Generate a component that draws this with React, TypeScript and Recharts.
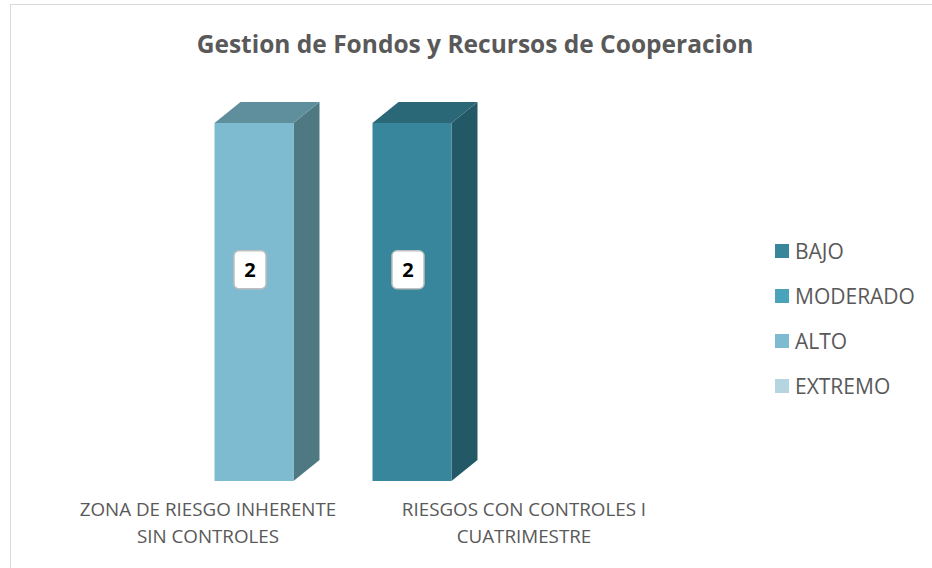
import React from 'react';
import { BarChart, Bar, XAxis, YAxis, Legend, LabelList } from 'recharts';

const categories = ['ZONA DE RIESGO INHERENTE SIN CONTROLES', 'RIESGOS CON CONTROLES I CUATRIMESTRE'];
const categoryLines = [
  ['ZONA DE RIESGO INHERENTE', 'SIN CONTROLES'],
  ['RIESGOS CON CONTROLES I', 'CUATRIMESTRE'],
];
const bajo = [0, 2];
const moderado = [0, 0];
const alto = [2, 0];
const extremo = [0, 0];

const seriesNames = ['BAJO', 'MODERADO', 'ALTO', 'EXTREMO'];
const seriesKeys = ['bajo', 'moderado', 'alto', 'extremo'];
// front / top / side shades for the 3D look
const seriesColors = [
  { front: '#37869B', top: '#2A6878', side: '#235866' },
  { front: '#4AA4B9', top: '#3A8090', side: '#306B78' },
  { front: '#7FBBD0', top: '#5F8E9D', side: '#4F7982' },
  { front: '#B5D6E0', top: '#8AA6AF', side: '#758E96' },
];

const data = categories.map((name, i) => ({
  name,
  bajo: bajo[i],
  moderado: moderado[i],
  alto: alto[i],
  extremo: extremo[i],
}));

const DEPTH_X = 26;
const DEPTH_Y = 21;
const FONT = '"Open Sans", "DejaVu Sans", sans-serif';

const make3DShape = (c: { front: string; top: string; side: string }) => (props: any) => {
  const { x, y, width, height } = props;
  if (!height || height <= 0) return null;
  const top = `${x},${y} ${x + DEPTH_X},${y - DEPTH_Y} ${x + width + DEPTH_X},${y - DEPTH_Y} ${x + width},${y}`;
  const side = `${x + width},${y} ${x + width + DEPTH_X},${y - DEPTH_Y} ${x + width + DEPTH_X},${y + height - DEPTH_Y} ${x + width},${y + height}`;
  return (
    <g>
      <polygon points={side} fill={c.side} />
      <polygon points={top} fill={c.top} />
      <rect x={x} y={y} width={width} height={height} fill={c.front} />
    </g>
  );
};

const ValueBox = (props: any) => {
  const { x, y, width, height, value } = props;
  if (!value) return null;
  const cx = x + width / 2 - 4;
  const cy = y + height * 0.41;
  return (
    <g>
      <rect x={cx - 16} y={cy - 19} width={32} height={38} rx={5} fill="#ffffff" stroke="#bfbfbf" strokeWidth={1.5} />
      <text x={cx} y={cy + 7} textAnchor="middle" fontFamily={FONT} fontWeight={700} fontSize={20} fill="#000000">
        {value}
      </text>
    </g>
  );
};

const CategoryTick = (props: any) => {
  const { x, y, index } = props;
  const lines = categoryLines[index] || [];
  return (
    <text x={x} textAnchor="middle" fontFamily={FONT} fontSize={18.8} fill="#595959">
      {lines.map((l, i) => (
        <tspan key={i} x={x} y={y + 27 + i * 27}>
          {l}
        </tspan>
      ))}
    </text>
  );
};

const LegendList = (props: any) => {
  const payload = props.payload || [];
  const items = seriesNames.map((n) => payload.find((p: any) => p.value === n)).filter(Boolean);
  return (
    <div style={{ fontFamily: FONT, fontSize: 21, color: '#595959' }}>
      {items.map((p: any) => (
        <div key={p.value} style={{ display: 'flex', alignItems: 'center', height: 45 }}>
          <span style={{ width: 14, height: 14, background: p.color, marginRight: 6, display: 'inline-block' }} />
          {p.value}
        </div>
      ))}
    </div>
  );
};

export default function App() {
  return (
    <div style={{ position: 'absolute', left: 0, top: 0, width: 932, height: 568, overflow: 'hidden', background: '#fff' }}>
      <div
        style={{
          position: 'absolute',
          left: 10,
          top: 4,
          width: 940,
          height: 600,
          border: '1px solid #d9d9d9',
        }}
      />
      <div
        style={{
          position: 'absolute',
          left: 0,
          top: 27,
          width: 950,
          textAlign: 'center',
          fontFamily: FONT,
          fontWeight: 700,
          fontSize: 24.5,
          color: '#595959',
        }}
      >
        Gestion de Fondos y Recursos de Cooperacion
      </div>
      <div style={{ position: 'absolute', left: 0, top: 0 }}>
        <BarChart width={932} height={568} data={data} margin={{ top: 123, right: 100, bottom: 27, left: 50 }}>
          <XAxis
            xAxisId="lbl"
            dataKey="name"
            height={60}
            axisLine={false}
            tickLine={false}
            interval={0}
            tick={<CategoryTick />}
          />
          <XAxis xAxisId="bars" dataKey="name" orientation="top" hide padding={{ left: 124.5, right: 191.5 }} />
          <YAxis hide domain={[0, 2]} />
          <Legend
            layout="vertical"
            align="right"
            verticalAlign="top"
            wrapperStyle={{ left: 775, top: 228, width: 150 }}
            content={<LegendList />}
          />
          {seriesKeys.map((k, i) => (
            <Bar
              key={k}
              dataKey={k}
              name={seriesNames[i]}
              xAxisId="bars"
              stackId="a"
              barSize={79}
              fill={seriesColors[i].front}
              shape={make3DShape(seriesColors[i])}
              isAnimationActive={false}
            >
              <LabelList dataKey={k} content={<ValueBox />} />
            </Bar>
          ))}
        </BarChart>
      </div>
    </div>
  );
}
